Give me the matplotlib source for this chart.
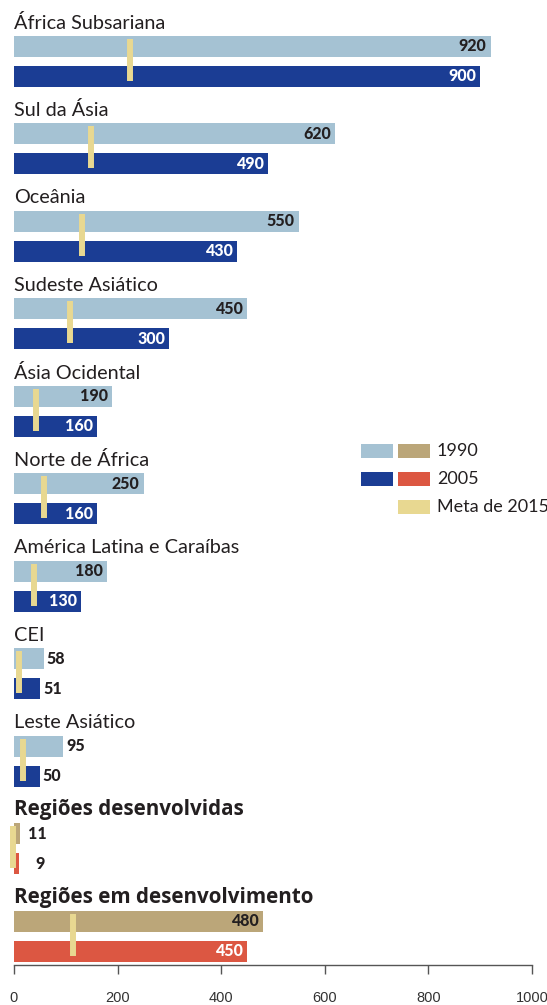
import matplotlib
matplotlib.use('Agg')
import numpy as np
import matplotlib.pyplot as plt
from matplotlib.patches import Rectangle

regions = ["África Subsariana", "Sul da Ásia", "Oceânia", "Sudeste Asiático",
           "Ásia Ocidental", "Norte de África", "América Latina e Caraíbas",
           "CEI", "Leste Asiático", "Regiões desenvolvidas",
           "Regiões em desenvolvimento"]
v1990 = [920, 620, 550, 450, 190, 250, 180, 58, 95, 11, 480]
v2005 = [900, 490, 430, 300, 160, 160, 130, 51, 50, 9, 450]
meta2015 = [224, 149, 131, 108, 43, 58, 38, 10, 17, -2, 114]
aggregate = [False] * 9 + [True, True]
xticks = [0, 200, 400, 600, 800, 1000]

c_1990 = '#a5c2d3'
c_2005 = '#1b3d94'
c_1990_agg = '#bba679'
c_2005_agg = '#dc5742'
c_meta = '#e8d891'
txt = '#231f20'

W, H = 547, 1005
fig = plt.figure(figsize=(W / 100, H / 100), dpi=100)
# main axes: y in pixels from top, x in data units
ax = fig.add_axes([14 / W, (H - 965) / H, 518 / W, 965 / H])
ax.set_xlim(0, 1000)
ax.set_ylim(965, 0)

step = 87.5
first = 46.3
bh = 20.7
for i, name in enumerate(regions):
    y1 = first + i * step
    y2 = y1 + 30
    ca = c_1990_agg if aggregate[i] else c_1990
    cb = c_2005_agg if aggregate[i] else c_2005
    ax.barh(y1, v1990[i], height=bh, color=ca, left=0)
    ax.barh(y2, v2005[i], height=bh, color=cb, left=0)
    ax.vlines(meta2015[i], y1 - 7.3, y2 + 4.4, color=c_meta, lw=4.3,
              capstyle='butt', zorder=3, clip_on=False)
    if aggregate[i]:
        ax.text(0, y1 - 24, name, ha='left', va='center', fontsize=14.9,
                fontfamily='Open Sans', color=txt, fontweight='bold')
    else:
        ax.text(0, y1 - 23.5, name, ha='left', va='center', fontsize=14.3,
                fontfamily='Lato', color=txt)
    for v, y, inner in ((v1990[i], y1, txt), (v2005[i], y2, 'white')):
        if v >= 130:
            ax.annotate(str(v), (v, y), xytext=(-3, 0), textcoords='offset points',
                        ha='right', va='center', fontsize=11.5, fontweight='black',
                        fontfamily='Lato', color=inner, zorder=4)
        else:
            off = 6 if v < 20 else 2
            if v < 10:
                off = 12
            ax.annotate(str(v), (v, y), xytext=(off, 0), textcoords='offset points',
                        ha='left', va='center', fontsize=11.5, fontweight='black',
                        fontfamily='Lato', color=txt, zorder=4)

for s in ['top', 'right', 'left']:
    ax.spines[s].set_visible(False)
ax.spines['bottom'].set_color('#555555')
ax.spines['bottom'].set_linewidth(1)
ax.set_yticks([])
ax.set_xticks(xticks)
ax.set_xticklabels([str(t) for t in xticks], fontfamily='Liberation Sans',
                   fontsize=10.5, color='#333333')
ax.tick_params(axis='x', direction='out', length=6.5, width=1, color='#555555', pad=12)
ax.set_facecolor('none')

# legend drawn in pixel coordinates
lg = fig.add_axes([0, 0, 1, 1])
lg.set_xlim(0, W)
lg.set_ylim(H, 0)
lg.axis('off')
leg_rows = [("1990", c_1990, c_1990_agg), ("2005", c_2005, c_2005_agg),
            ("Meta de 2015", None, c_meta)]
for k, (lab, ca, cb) in enumerate(leg_rows):
    yc = 451 + k * 28
    if ca is not None:
        lg.add_patch(Rectangle((361, yc - 6.7), 32, 13.4, color=ca, lw=0))
    lg.add_patch(Rectangle((398, yc - 6.7), 32, 13.4, color=cb, lw=0))
    lg.text(437, yc, lab, ha='left', va='center', fontsize=13,
            fontfamily='Lato', color=txt)

fig.savefig('out.png', dpi=100)
